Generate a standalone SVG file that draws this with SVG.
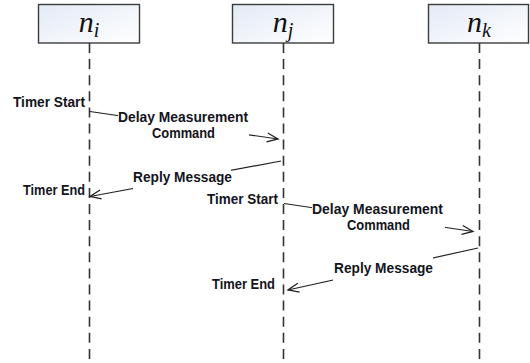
<svg xmlns="http://www.w3.org/2000/svg" width="530" height="363" viewBox="0 0 530 363">
  <defs>
    <linearGradient id="boxFill" x1="0" y1="0" x2="1" y2="1">
      <stop offset="0" stop-color="#e3eaf6"/>
      <stop offset="1" stop-color="#ffffff"/>
    </linearGradient>
    <marker id="open" markerUnits="userSpaceOnUse" markerWidth="14" markerHeight="12" viewBox="0 0 14 12" refX="12" refY="6" orient="auto">
      <path d="M1,1.5 L12,6 L1,10.5" fill="none" stroke="#222" stroke-width="1.3"/>
    </marker>
  </defs>
  <style>
    .box { fill: url(#boxFill); stroke: #3c3c3c; stroke-width: 1.4; }
    .life { stroke: #333; stroke-width: 1.6; stroke-dasharray: 10 6.1; fill: none; }
    .title { font-family: "Liberation Serif", "DejaVu Serif", serif; font-style: italic; font-size: 30px; fill: #111; text-anchor: middle; }
    .sub { font-size: 20px; }
    .msg { stroke: #222; stroke-width: 1.2; fill: none; marker-end: url(#open); }
    .mask { fill: #ffffff; }
    .lbl { font-family: "Liberation Sans", Arial, sans-serif; font-weight: bold; font-size: 15px; fill: #141420; }
    .mid { text-anchor: middle; }
    .end { text-anchor: end; }
  </style>

  <rect width="530" height="363" fill="#ffffff"/>

  <!-- participants with their lifelines -->
  <g id="node-ni">
    <rect class="box" x="38.5" y="4.5" width="101" height="38.5"/>
    <text class="title" x="89" y="32">n<tspan class="sub" dy="5">i</tspan></text>
    <line class="life" x1="89.5" y1="43" x2="89.5" y2="363"/>
  </g>
  <g id="node-nj">
    <rect class="box" x="232.5" y="4.5" width="101" height="38.5"/>
    <text class="title" x="283" y="32">n<tspan class="sub" dy="5">j</tspan></text>
    <line class="life" x1="283.5" y1="43" x2="283.5" y2="363"/>
  </g>
  <g id="node-nk">
    <rect class="box" x="428.5" y="4.5" width="100" height="38.5"/>
    <text class="title" x="479" y="32">n<tspan class="sub" dy="5">k</tspan></text>
    <line class="life" x1="479.5" y1="43" x2="479.5" y2="363"/>
  </g>

  <!-- messages -->
  <g id="connectors">
    <line class="msg" x1="90" y1="111.5" x2="278" y2="139"/>
    <line class="msg" x1="281" y1="161" x2="90" y2="196.5"/>
    <line class="msg" x1="284" y1="203.5" x2="473" y2="231.5"/>
    <line class="msg" x1="478" y1="248" x2="288" y2="290"/>
  </g>

  <!-- message labels sit on a white ground that hides the line beneath -->
  <g id="labels">
    <rect class="mask" x="118" y="108" width="131" height="34"/>
    <text class="lbl" x="118" y="122" textLength="130" lengthAdjust="spacingAndGlyphs">Delay Measurement</text>
    <text class="lbl" x="152" y="138" textLength="63" lengthAdjust="spacingAndGlyphs">Command</text>

    <rect class="mask" x="133" y="166" width="98" height="23"/>
    <text class="lbl" x="133" y="182" textLength="99" lengthAdjust="spacingAndGlyphs">Reply Message</text>

    <rect class="mask" x="312" y="199" width="133" height="36"/>
    <text class="lbl" x="312" y="214" textLength="131" lengthAdjust="spacingAndGlyphs">Delay Measurement</text>
    <text class="lbl" x="347" y="230" textLength="63" lengthAdjust="spacingAndGlyphs">Command</text>

    <rect class="mask" x="333" y="257" width="100" height="25"/>
    <text class="lbl" x="334" y="273" textLength="99" lengthAdjust="spacingAndGlyphs">Reply Message</text>

    <text class="lbl" x="13" y="106.5" textLength="72" lengthAdjust="spacingAndGlyphs">Timer Start</text>
    <text class="lbl" x="23" y="195" textLength="62" lengthAdjust="spacingAndGlyphs">Timer End</text>
    <text class="lbl" x="207" y="204" textLength="71" lengthAdjust="spacingAndGlyphs">Timer Start</text>
    <text class="lbl" x="212" y="289" textLength="63" lengthAdjust="spacingAndGlyphs">Timer End</text>
  </g>
</svg>
